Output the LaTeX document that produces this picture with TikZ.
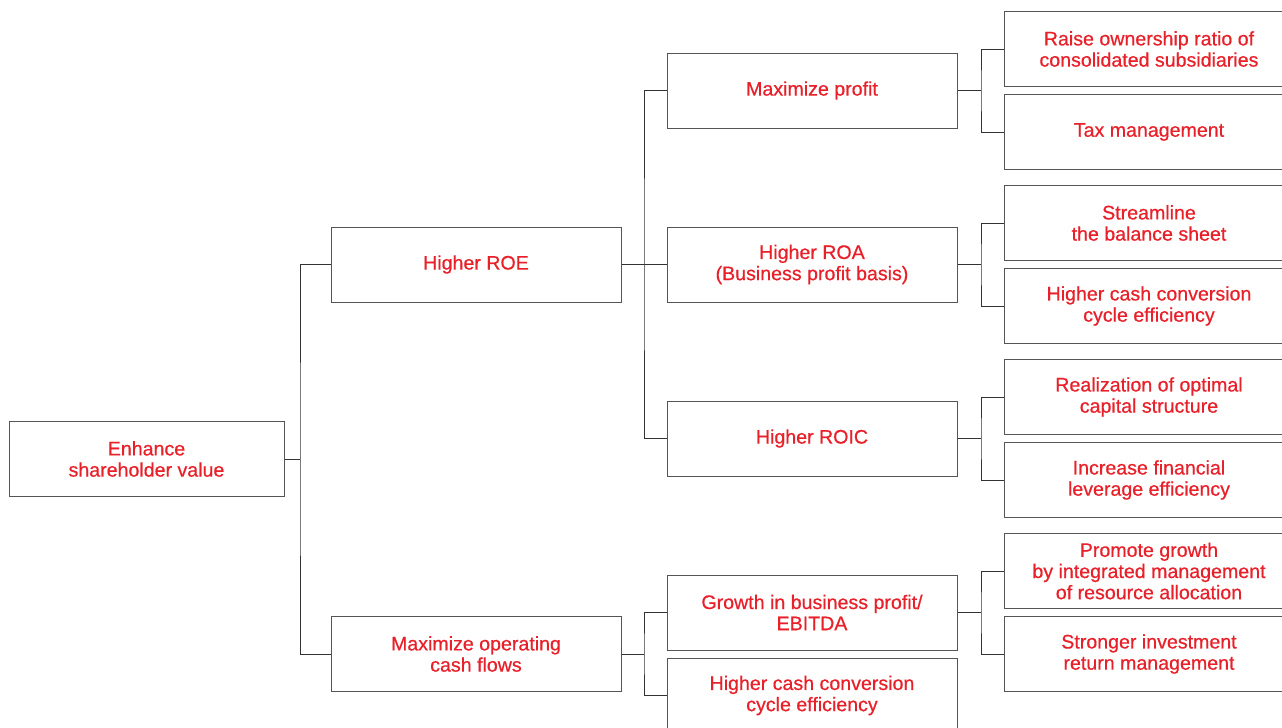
\documentclass[tikz,border=0pt]{standalone}
\usepackage{fontspec}
\setmainfont{Liberation Sans}
\definecolor{txtred}{RGB}{232,32,42}
\definecolor{lngray}{RGB}{85,85,85}

\begin{document}
\begin{tikzpicture}[x=0.5pt,y=-0.5pt,
    block/.style={rectangle,draw=lngray,line width=.5pt,align=center,inner sep=0pt,
      minimum width=145pt,minimum height=37.5pt,text=txtred,
      font=\fontsize{9.8}{10.6}\selectfont\addfontfeature{FakeBold=0.6}},
    link/.style={draw=black!80,line width=.5pt}]
        \clip (0,0) rectangle (1282,728);
        \node [block,minimum width=137.5pt] (root) at (146.5,459) {Enhance\\shareholder value};
        \node [block] (roe) at (476,264.5) {Higher ROE};
        \node [block] (cash) at (476,654) {Maximize operating\\cash flows};
        \node [block] (prof) at (812,90.5) {Maximize profit};
        \node [block] (roa) at (812,264.5) {Higher ROA\\(Business profit basis)};
        \node [block] (roic) at (812,438.5) {Higher ROIC};
        \node [block] (ebitda) at (812,612.5) {Growth in business profit/\\EBITDA};
        \node [block] (ccc) at (812,695.5) {Higher cash conversion\\cycle efficiency};
        \node [block] (own) at (1149,49) {Raise ownership ratio of\\consolidated subsidiaries};
        \node [block] (tax) at (1149,132) {Tax management};
        \node [block] (bs) at (1149,223) {Streamline\\the balance sheet};
        \node [block] (ccc2) at (1149,306) {Higher cash conversion\\cycle efficiency};
        \node [block] (cap) at (1149,397) {Realization of optimal\\capital structure};
        \node [block] (lev) at (1149,480) {Increase financial\\leverage efficiency};
        \node [block] (grow) at (1149,571) {Promote growth\\by integrated management\\of resource allocation};
        \node [block] (inv) at (1149,654) {Stronger investment\\return management};
        % branch points
        \coordinate (j0) at (300,459);
        \coordinate (j1) at (644,264.5);
        \coordinate (j2) at (644,654);
        \coordinate (j3) at (981,90.5);
        \coordinate (j4) at (981,264.5);
        \coordinate (j5) at (981,438.5);
        \coordinate (j6) at (981,612.5);
        \draw[link] (root.east) -- (j0);
        \draw[link] (roe.west) -| (j0) |- (cash.west);
        \draw[link] (roe.east) -- (j1) -- (roa.west);
        \draw[link] (prof.west) -| (j1) |- (roic.west);
        \draw[link] (cash.east) -- (j2);
        \draw[link] (ebitda.west) -| (j2) |- (ccc.west);
        \draw[link] (prof.east) -- (j3);
        \draw[link] (own.west) -| (j3) |- (tax.west);
        \draw[link] (roa.east) -- (j4);
        \draw[link] (bs.west) -| (j4) |- (ccc2.west);
        \draw[link] (roic.east) -- (j5);
        \draw[link] (cap.west) -| (j5) |- (lev.west);
        \draw[link] (ebitda.east) -- (j6);
        \draw[link] (grow.west) -| (j6) |- (inv.west);
    \end{tikzpicture}
\end{document}
